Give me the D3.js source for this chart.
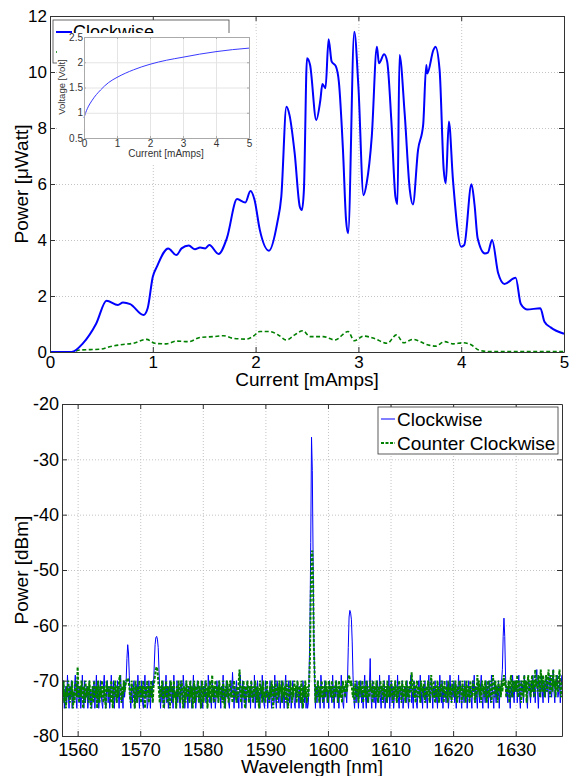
<!DOCTYPE html>
<html>
<head>
<meta charset="utf-8">
<script src="https://cdn.jsdelivr.net/npm/d3@7/dist/d3.min.js"></script>
<style>
body { margin: 0; background: #fff; }
text { font-family: "Liberation Sans", Arial, sans-serif; }
</style>
</head>
<body>
<script>
var FONT = '"Liberation Sans", Arial, sans-serif';

// top chart: optical power vs drive current
var currentCw = [0,0.21,0.32,0.45,0.55,0.66,0.71,0.78,0.91,0.95,1.0,1.04,1.15,1.23,1.28,1.35,1.41,1.46,1.51,1.55,1.64,1.72,1.82,1.90,1.95,1.99,2.04,2.13,2.21,2.25,2.30,2.33,2.38,2.43,2.45,2.47,2.50,2.53,2.59,2.63,2.65,2.68,2.71,2.74,2.78,2.81,2.85,2.88,2.90,2.96,3.0,3.05,3.08,3.13,3.18,3.20,3.25,3.28,3.32,3.36,3.38,3.40,3.45,3.50,3.53,3.58,3.63,3.66,3.67,3.73,3.75,3.79,3.83,3.85,3.88,3.92,4.0,4.03,4.10,4.13,4.16,4.23,4.26,4.30,4.36,4.42,4.53,4.58,4.64,4.77,4.81,4.87,5.0];
var powerCw = [0,0,0.31,1.02,1.83,1.68,1.77,1.71,1.32,1.56,2.69,3.05,3.7,3.46,3.7,3.8,3.67,3.73,3.7,3.82,3.5,4.06,5.46,5.34,5.75,5.43,4.38,3.62,4.6,5.55,8.76,8.46,7.1,5.19,5.07,5.79,10.49,10.25,8.29,9.0,9.57,9.42,11.17,10.37,10.21,9.65,7.21,4.71,4.24,11.44,9.48,5.6,6.02,7.69,10.9,10.31,10.63,10.37,8.29,5.55,5.29,10.61,8.52,5.79,5.27,7.21,8.11,10.25,9.95,10.79,10.9,10.07,6.5,6.02,8.23,6.14,3.76,3.82,5.99,5.25,4.06,3.52,3.55,4.0,2.81,2.43,2.65,1.71,1.52,1.56,1.08,0.88,0.65];
var currentCcw = [0,0.21,0.29,0.49,0.58,0.71,0.81,0.94,1.02,1.13,1.23,1.35,1.46,1.59,1.69,1.78,1.91,1.98,2.04,2.14,2.22,2.30,2.38,2.46,2.53,2.66,2.77,2.90,2.96,3.05,3.15,3.28,3.37,3.44,3.53,3.68,3.75,3.84,3.92,4.02,4.10,4.17,4.25,5.0];
var powerCcw = [0,0,0.07,0.1,0.19,0.27,0.31,0.45,0.31,0.29,0.39,0.37,0.52,0.55,0.58,0.49,0.46,0.57,0.73,0.73,0.61,0.43,0.61,0.76,0.55,0.55,0.43,0.73,0.4,0.57,0.49,0.31,0.61,0.33,0.45,0.25,0.21,0.37,0.29,0.33,0.25,0.07,0.02,0.02];
var currentTicks = [0,1,2,3,4,5];
var powerTicks = [0,2,4,6,8,10,12];

// inset: voltage vs current
var insetCurrent = [0,0.05,0.1,0.25,0.5,0.75,1,1.5,2,2.5,3,3.5,4,4.5,5];
var insetVoltage = [0.9,1.0,1.08,1.25,1.45,1.6,1.7,1.85,1.96,2.04,2.1,2.16,2.21,2.25,2.28];
var insetVTicks = [0.5,1,1.5,2,2.5];

// bottom chart: optical spectrum, one sample every 0.125 nm from 1557.5 nm
var wlStart = 1557.5, wlStep = 0.125;
var spectrumCw = [
-72,-74,-70,-75,-73,-71,-74,-69,-72,-75,-71,-73,-70,-75,-72,-74,-71,-69,-73,-75,
-70,-72,-74,-71,-75,-73,-69,-72,-75,-70,-74,-72,-71,-75,-73,-70,-74,-72,-75,-71,
-73,-70,-75,-72,-69,-74,-71,-75,-73,-70,-72,-74,-75,-71,-69,-73,-75,-72,-70,-74,
-71,-75,-73,-69,-72,-74,-70,-75,-71,-73,-74,-70,-72,-75,-71,-69,-74,-72,-75,-70,
-73,-71,-70,-66,-63.5,-65,-69,-73,-75,-71,-74,-72,-70,-75,-73,-71,-74,-69,-72,-75,
-71,-73,-70,-74,-75,-72,-69,-73,-71,-75,-74,-70,-72,-75,-71,-73,-70,-71,-67,-63.5,
-62.2,-62,-62.5,-64,-68,-72,-75,-71,-74,-70,-73,-75,-72,-69,-74,-71,-75,-73,-70,-72,
-74,-71,-75,-69,-73,-72,-75,-70,-74,-71,-73,-75,-70,-72,-74,-69,-71,-75,-73,-70,
-72,-75,-71,-74,-70,-73,-75,-72,-69,-74,-71,-75,-73,-70,-72,-74,-71,-75,-70,-73,
-75,-71,-73,-70,-74,-72,-75,-69,-71,-74,-73,-75,-70,-72,-74,-71,-75,-73,-70,-72,
-74,-70,-72,-75,-71,-73,-69,-74,-72,-75,-70,-73,-71,-74,-75,-72,-70,-73,-68.5,-72,
-75,-71,-73,-70,-74,-72,-75,-71,-69,-73,-75,-70,-72,-74,-71,-75,-73,-70,-72,-74,
-71,-75,-70,-73,-72,-74,-69,-75,-71,-73,-70,-74,-72,-75,-71,-73,-69,-72,-74,-75,
-70,-73,-71,-75,-72,-74,-70,-73,-75,-71,-72,-74,-69,-73,-75,-70,-72,-74,-71,-75,
-73,-70,-74,-72,-75,-71,-69,-73,-75,-72,-70,-74,-71,-75,-73,-70,-72,-74,-75,-71,
-73,-70,-72,-75,-71,-74,-73,-75,-70,-72,-74,-71,-75,-73,-75,-74,-68,-60,-45,-26,
-32,-48,-63,-70,-75,-71,-74,-70,-73,-72,-75,-69,-71,-74,-72,-75,-70,-73,-71,-74,
-72,-75,-70,-73,-71,-74,-69,-72,-75,-71,-73,-70,-74,-72,-75,-71,-73,-69,-72,-74,
-75,-71,-73,-72,-74,-70,-64,-58.5,-57.3,-57.8,-59,-63,-69,-73,-75,-71,-74,-70,-72,-75,
-71,-73,-70,-74,-72,-75,-71,-69,-73,-75,-70,-72,-74,-71,-66,-73,-75,-70,-72,-74,
-71,-75,-73,-70,-72,-74,-69,-73,-75,-71,-72,-74,-70,-75,-73,-71,-74,-72,-69,-75,
-72,-70,-74,-71,-75,-73,-70,-72,-74,-69,-73,-75,-71,-72,-74,-70,-75,-73,-71,-72,
-74,-70,-73,-75,-71,-72,-69,-74,-72,-75,-70,-73,-71,-74,-75,-72,-70,-73,-69,-74,
-72,-75,-71,-73,-70,-74,-72,-75,-71,-69,-73,-74,-70,-72,-75,-71,-73,-70,-74,-72,
-75,-71,-73,-69,-72,-74,-70,-75,-71,-73,-72,-74,-70,-71,-75,-73,-69,-72,-74,-71,
-73,-70,-74,-72,-75,-71,-72,-69,-74,-70,-73,-75,-71,-72,-74,-70,-73,-71,-75,-72,
-70,-74,-71,-73,-75,-70,-72,-69,-74,-71,-73,-75,-70,-72,-74,-71,-69,-73,-75,-71,
-72,-74,-70,-73,-71,-75,-70,-72,-74,-69,-71,-73,-75,-70,-72,-74,-71,-73,-70,-75,
-71,-72,-70,-68,-62,-58.7,-62,-69,-73,-71,-74,-70,-72,-75,-71,-73,-69,-72,-74,-70,
-72,-70,-74,-71,-69,-73,-75,-70,-72,-71,-74,-69,-72,-70,-73,-75,-71,-70,-72,-74,
-70,-72,-69,-73,-71,-74,-70,-68,-72,-75,-71,-70,-73,-69,-72,-74,-70,-71,-73,-69,
-72,-70,-74,-71,-69,-72,-73,-70,-68,-72,-74,-70,-71,-69,-73,-72,-70,-74,-71,-69];
var spectrumCcw = [
-71,-73,-70,-74,-72,-75,-71,-73,-70,-72,-74,-71,-73,-70,-75,-72,-74,-71,-70,-73,
-67.5,-72,-74,-71,-73,-70,-72,-75,-71,-74,-70,-73,-72,-71,-74,-70,-72,-75,-73,-71,
-74,-70,-72,-73,-71,-75,-70,-72,-74,-71,-73,-70,-72,-74,-71,-73,-75,-70,-72,-71,
-73,-71,-74,-70,-72,-75,-71,-73,-70,-72,-74,-71,-73,-70,-69,-72,-74,-71,-73,-70,
-72,-71,-70,-70,-69.5,-70,-71,-73,-74,-70,-72,-71,-73,-75,-70,-72,-74,-71,-73,-70,
-72,-74,-71,-73,-70,-72,-75,-71,-73,-70,-72,-74,-71,-73,-70,-72,-74,-71,-70,-69,
-68,-67.5,-68,-70,-72,-74,-71,-73,-70,-72,-75,-71,-73,-70,-72,-74,-71,-73,-75,-70,
-72,-71,-74,-70,-73,-72,-75,-71,-73,-70,-72,-74,-71,-70,-73,-75,-71,-72,-74,-70,
-73,-71,-72,-74,-70,-73,-71,-75,-72,-70,-74,-71,-73,-72,-70,-74,-71,-73,-75,-70,
-72,-74,-71,-73,-70,-72,-75,-71,-73,-70,-72,-74,-69,-73,-71,-74,-70,-72,-73,-71,
-74,-70,-72,-73,-71,-74,-70,-72,-75,-71,-73,-70,-72,-74,-71,-70,-73,-72,-74,-71,
-70,-73,-72,-74,-71,-73,-70,-68,-72,-74,-71,-73,-70,-72,-75,-71,-73,-70,-72,-74,
-71,-73,-70,-72,-74,-71,-73,-70,-72,-74,-71,-73,-75,-70,-72,-71,-74,-70,-73,-72,
-74,-71,-70,-73,-72,-74,-71,-73,-70,-72,-75,-71,-73,-70,-72,-74,-71,-73,-70,-72,
-71,-74,-70,-72,-73,-71,-74,-70,-72,-75,-71,-73,-70,-72,-74,-71,-73,-70,-72,-71,
-74,-70,-72,-73,-71,-74,-70,-72,-75,-71,-73,-70,-72,-74,-71,-73,-70,-66,-55,-47,
-46.5,-52,-64,-69,-74,-71,-73,-70,-72,-74,-71,-73,-70,-72,-74,-71,-73,-70,-72,-71,
-74,-70,-72,-71,-73,-70,-72,-74,-71,-73,-70,-72,-71,-74,-70,-73,-72,-71,-74,-70,
-72,-71,-73,-70,-72,-71,-70,-69,-70,-71,-70,-72,-73,-71,-74,-70,-72,-73,-71,-74,
-70,-72,-71,-73,-70,-74,-72,-71,-73,-70,-72,-74,-71,-73,-70,-72,-71,-74,-70,-73,
-71,-73,-70,-72,-74,-71,-73,-70,-72,-71,-74,-70,-73,-72,-71,-74,-70,-72,-73,-71,
-73,-70,-72,-74,-71,-73,-70,-72,-74,-71,-73,-70,-72,-71,-74,-70,-73,-72,-71,-74,
-70,-72,-73,-71,-74,-70,-72,-68.5,-71,-73,-70,-72,-74,-71,-70,-73,-72,-71,-74,-70,
-72,-71,-73,-70,-74,-72,-71,-73,-70,-72,-74,-71,-69,-72,-73,-70,-72,-74,-71,-73,
-70,-72,-74,-71,-73,-70,-72,-71,-74,-70,-73,-72,-71,-74,-70,-72,-73,-71,-74,-70,
-72,-71,-73,-70,-72,-74,-71,-73,-70,-72,-71,-74,-70,-73,-72,-71,-74,-70,-72,-73,
-71,-74,-70,-72,-73,-71,-70,-72,-74,-71,-73,-69,-72,-70,-73,-71,-74,-70,-72,-71,
-73,-70,-72,-74,-71,-70,-73,-72,-70,-74,-71,-69,-72,-73,-70,-72,-71,-74,-70,-72,
-71,-73,-70,-72,-70,-69,-71,-70,-73,-71,-72,-70,-74,-71,-69,-72,-73,-70,-72,-71,
-70,-72,-69,-73,-71,-70,-72,-74,-70,-71,-73,-69,-72,-70,-74,-71,-69,-72,-70,-73,
-71,-69,-72,-70,-73,-68,-71,-70,-72,-69,-71,-73,-68,-70,-72,-69,-71,-73,-70,-69,
-72,-70,-68,-71,-73,-69,-70,-72,-68,-71,-70,-73,-69,-71,-72,-70,-68,-71,-73,-70];
var wlTicks = [1560,1570,1580,1590,1600,1610,1620,1630];
var dbmTicks = [-80,-70,-60,-50,-40,-30,-20];

var legendNames = ['Clockwise', 'Counter Clockwise'];
var BLUE = '#0000ff', GREEN = '#008000';

var svg = d3.select('body').append('svg')
  .attr('width', 570)
  .attr('height', 776);

//grid lines (dotted)
function grid(g, x, y, w, h, xt, yt, color, dash) {
  g.append('g').attr('class', 'grid').attr('transform', 'translate(0,' + h + ')')
    .call(d3.axisBottom(x).tickValues(xt).tickSize(-h).tickFormat(''));
  g.append('g').attr('class', 'grid')
    .call(d3.axisLeft(y).tickValues(yt).tickSize(-w).tickFormat(''));
  g.selectAll('.grid .domain').remove();
  g.selectAll('.grid line').attr('stroke', color).attr('stroke-dasharray', dash);
}

//box with inward ticks on all four sides
function frame(g, x, y, w, h, xt, yt, o) {
  var ax = [
    g.append('g').attr('transform', 'translate(0,' + h + ')')
      .call(d3.axisBottom(x).tickValues(xt).tickSize(-o.tick).tickSizeOuter(0).tickPadding(o.padX).tickFormat(String)),
    g.append('g')
      .call(d3.axisTop(x).tickValues(xt).tickSize(-o.tick).tickSizeOuter(0).tickFormat('')),
    g.append('g')
      .call(d3.axisLeft(y).tickValues(yt).tickSize(-o.tick).tickSizeOuter(0).tickPadding(o.padY).tickFormat(String)),
    g.append('g').attr('transform', 'translate(' + w + ',0)')
      .call(d3.axisRight(y).tickValues(yt).tickSize(-o.tick).tickSizeOuter(0).tickFormat(''))
  ];
  ax.forEach(function(a) {
    a.attr('color', o.color).attr('font-size', o.font).attr('font-family', FONT);
    a.selectAll('text').attr('fill', o.text);
  });
}

// ---------- top chart ----------
var t = {x: 50, y: 16, w: 514, h: 336};
var gt = svg.append('g').attr('transform', 'translate(' + t.x + ',' + t.y + ')');
var xT = d3.scaleLinear().domain([0, 5]).range([0, t.w]);
var yT = d3.scaleLinear().domain([0, 12]).range([t.h, 0]);

grid(gt, xT, yT, t.w, t.h, currentTicks, powerTicks, '#c4c4c4', '1,2');

var lineTop = d3.line().curve(d3.curveMonotoneX);
gt.append('path')
  .attr('d', lineTop(currentCcw.map(function(d, i) { return [xT(d), yT(powerCcw[i])]; })))
  .attr('fill', 'none').attr('stroke', GREEN).attr('stroke-width', 1.6).attr('stroke-dasharray', '4,2.5');
gt.append('path')
  .attr('d', lineTop(currentCw.map(function(d, i) { return [xT(d), yT(powerCw[i])]; })))
  .attr('fill', 'none').attr('stroke', BLUE).attr('stroke-width', 2);

frame(gt, xT, yT, t.w, t.h, currentTicks, powerTicks,
  {tick: 5, padX: 4, padY: 3, color: '#333', text: '#000', font: 17});

svg.append('text').attr('x', 307).attr('y', 386).attr('text-anchor', 'middle')
  .attr('font-size', 19).text('Current [mAmps]');
svg.append('text').attr('transform', 'translate(28,184) rotate(-90)').attr('text-anchor', 'middle')
  .attr('font-size', 19).text('Power [\u03bcWatt]');

//legend (mostly hidden by the inset)
var lt = svg.append('g');
lt.append('rect').attr('x', 53).attr('y', 20).attr('width', 176).attr('height', 43)
  .attr('fill', '#fff').attr('stroke', '#444').attr('stroke-width', 0.8);
lt.selectAll('line').data(legendNames).enter().append('line')
  .attr('x1', 56).attr('x2', 72)
  .attr('y1', function(d, i) { return 32 + i * 20; })
  .attr('y2', function(d, i) { return 32 + i * 20; })
  .attr('stroke', function(d, i) { return i ? GREEN : BLUE; })
  .attr('stroke-width', function(d, i) { return i ? 1.6 : 2; })
  .attr('stroke-dasharray', function(d, i) { return i ? '4,2.5' : null; });
lt.selectAll('text').data(legendNames).enter().append('text')
  .attr('x', 73).attr('y', function(d, i) { return 38 + i * 20; })
  .attr('font-size', 18).text(function(d) { return d; });

// ---------- inset ----------
svg.append('rect').attr('x', 57).attr('y', 33).attr('width', 199).attr('height', 130).attr('fill', '#fff');
var n = {x: 84, y: 37, w: 165, h: 101};
var gi = svg.append('g').attr('transform', 'translate(' + n.x + ',' + n.y + ')');
var xI = d3.scaleLinear().domain([0, 5]).range([0, n.w]);
var yI = d3.scaleLinear().domain([0.5, 2.5]).range([n.h, 0]);
grid(gi, xI, yI, n.w, n.h, currentTicks, insetVTicks, '#e4e4e4', null);
gi.append('path')
  .attr('d', d3.line().curve(d3.curveMonotoneX)(insetCurrent.map(function(d, i) { return [xI(d), yI(insetVoltage[i])]; })))
  .attr('fill', 'none').attr('stroke', '#3a3aff').attr('stroke-width', 1);
frame(gi, xI, yI, n.w, n.h, currentTicks, insetVTicks,
  {tick: 2, padX: 2, padY: 1, color: '#aaa', text: '#333', font: 10});
svg.append('text').attr('x', 166).attr('y', 157).attr('text-anchor', 'middle')
  .attr('font-size', 10).attr('fill', '#333').text('Current [mAmps]');
svg.append('text').attr('transform', 'translate(65,87) rotate(-90)').attr('text-anchor', 'middle')
  .attr('font-size', 9.5).attr('fill', '#333').text('Voltage [Volt]');

// ---------- bottom chart ----------
var b = {x: 62, y: 404, w: 500, h: 332};
var gb = svg.append('g').attr('transform', 'translate(' + b.x + ',' + b.y + ')');
var xB = d3.scaleLinear().domain([1557.5, 1637.4]).range([0, b.w]);
var yB = d3.scaleLinear().domain([-80, -20]).range([b.h, 0]);

grid(gb, xB, yB, b.w, b.h, wlTicks, dbmTicks, '#c4c4c4', '1,2');

svg.append('clipPath').attr('id', 'clipB').append('rect').attr('width', b.w).attr('height', b.h);
var spec = gb.append('g').attr('clip-path', 'url(#clipB)');
var lineB = d3.line()
  .x(function(d, i) { return xB(wlStart + i * wlStep); })
  .y(function(d) { return yB(d); });
spec.append('path').attr('d', lineB(spectrumCw))
  .attr('fill', 'none').attr('stroke', BLUE).attr('stroke-width', 1);
spec.append('path').attr('d', lineB(spectrumCcw))
  .attr('fill', 'none').attr('stroke', GREEN).attr('stroke-width', 2).attr('stroke-dasharray', '3,1.5');

frame(gb, xB, yB, b.w, b.h, wlTicks, dbmTicks,
  {tick: 5, padX: 7, padY: 3, color: '#333', text: '#000', font: 18});

svg.append('text').attr('x', 312).attr('y', 773).attr('text-anchor', 'middle')
  .attr('font-size', 19).text('Wavelength [nm]');
svg.append('text').attr('transform', 'translate(28,570) rotate(-90)').attr('text-anchor', 'middle')
  .attr('font-size', 19).text('Power [dBm]');

//legend
var lb = svg.append('g');
lb.append('rect').attr('x', 378).attr('y', 407).attr('width', 180).attr('height', 47)
  .attr('fill', '#fff').attr('stroke', '#333').attr('stroke-width', 0.8);
lb.selectAll('line').data(legendNames).enter().append('line')
  .attr('x1', 381).attr('x2', 395)
  .attr('y1', function(d, i) { return 419 + i * 24; })
  .attr('y2', function(d, i) { return 419 + i * 24; })
  .attr('stroke', function(d, i) { return i ? GREEN : BLUE; })
  .attr('stroke-width', function(d, i) { return i ? 2 : 1; })
  .attr('stroke-dasharray', function(d, i) { return i ? '3,1.5' : null; });
lb.selectAll('text').data(legendNames).enter().append('text')
  .attr('x', 397).attr('y', function(d, i) { return 426 + i * 24; })
  .attr('font-size', 19).text(function(d) { return d; });
</script>
</body>
</html>
